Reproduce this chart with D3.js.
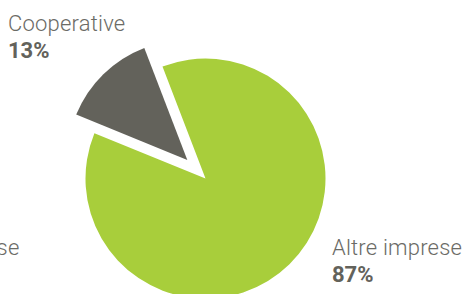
<!DOCTYPE html>
<html><head><meta charset="utf-8">
<script src="https://cdn.jsdelivr.net/npm/d3@7"></script>
<style>body{margin:0;background:#fff;overflow:hidden}text{font-family:Roboto,"Open Sans",sans-serif}</style>
</head><body><svg id="c" width="466" height="294"></svg>
<script>
const categories = ["Cooperative", "Altre imprese"];
const values = [13, 87];
const labels = ["13%", "87%"];
const colors = ["#63625b", "#a8ce3b"];

const svg = d3.select("#c");
const cx = 205.5, cy = 178.5, r = 120, explode = 26;
const start = -67.8 * Math.PI / 180;
const pie = d3.pie().sort(null).startAngle(start).endAngle(start + 2 * Math.PI);
const arc = d3.arc().innerRadius(0).outerRadius(r);
const arcs = pie(values);
const g = svg.append("g").attr("transform", `translate(${cx},${cy})`);
g.selectAll("path").data(arcs).join("path")
  .attr("d", arc)
  .attr("fill", (d, i) => colors[i])
  .attr("transform", (d, i) => {
    if (i !== 0) return null;
    const a = (d.startAngle + d.endAngle) / 2;
    return `translate(${Math.sin(a) * explode},${-Math.cos(a) * explode})`;
  });

const fs = 22;
const labelPos = [{x: 8, y: 31, anchor: "start"}, {x: 332, y: 255, anchor: "start"}];
labelPos.forEach((p, i) => {
  svg.append("text").attr("x", p.x).attr("y", p.y).attr("text-anchor", p.anchor)
    .attr("font-size", fs).attr("font-weight", 300).attr("letter-spacing", 0.2)
    .attr("fill", "#6b6b66").text(categories[i]);
  svg.append("text").attr("x", p.x).attr("y", p.y + 27).attr("text-anchor", p.anchor)
    .attr("font-size", fs).attr("font-weight", "bold").attr("fill", "#63625b").text(labels[i]);
});
// cut-off label from neighbouring chart
svg.append("text").attr("x", 19.5).attr("y", 255).attr("text-anchor", "end")
  .attr("font-size", fs).attr("font-weight", 300).attr("letter-spacing", 0.2)
  .attr("fill", "#6b6b66").text(categories[1]);
</script></body></html>
